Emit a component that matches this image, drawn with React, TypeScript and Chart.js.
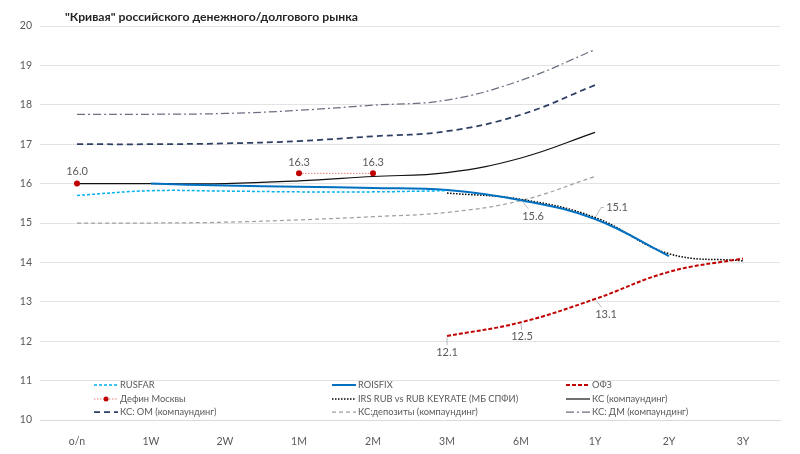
import React, { useEffect, useRef } from "react";
import { Chart, registerables } from "chart.js";

Chart.register(...registerables);

const TITLE = '"Кривая" российского денежного/долгового рынка';
const categories = ["o/n", "1W", "2W", "1M", "2M", "3M", "6M", "1Y", "2Y", "3Y"];

const rusfar = [15.7, 15.82, 15.81, 15.79, 15.79, 15.82, null, null, null, null];
const roisfix = [null, 16.0, 15.95, 15.92, 15.89, 15.84, 15.58, 15.1, 14.16, null];
const ofz = [null, null, null, null, null, 12.13, 12.48, 13.07, 13.76, 14.1];
const defin = [16.0, null, null, 16.26, 16.26, null, null, null, null, null];
const irs = [null, null, null, null, null, 15.76, 15.6, 15.14, 14.22, 14.04];
const ks = [16.0, 16.0, 16.0, 16.07, 16.18, 16.28, 16.65, 17.3, null, null];
const ksOm = [17.0, 17.0, 17.02, 17.08, 17.2, 17.33, 17.75, 18.5, null, null];
const ksDep = [15.0, 15.0, 15.02, 15.08, 15.16, 15.27, 15.57, 16.18, null, null];
const ksDm = [17.76, 17.76, 17.78, 17.86, 17.99, 18.12, 18.62, 19.4, null, null];

const yTicks = [10, 11, 12, 13, 14, 15, 16, 17, 18, 19, 20];

// Data labels: [datasetIndex, categoryIndex]
const labelPoints: Array<[number, number]> = [
  [3, 0], [3, 3], [3, 4],
  [4, 6], [4, 7],
  [2, 5], [2, 6], [2, 7],
];
// label layout (offsets from point, optional leader)
const labelLayout = [
  { dx: 0, dy: -12, leader: false },
  { dx: 0, dy: -11, leader: false },
  { dx: 0, dy: -11, leader: false },
  { dx: 12, dy: 17, leader: true },
  { dx: 22, dy: -10, leader: true, elbow: true },
  { dx: 0, dy: 16, leader: true },
  { dx: 1, dy: 14, leader: true },
  { dx: 11, dy: 15, leader: true },
];

const FONT = "Lato, 'Open Sans', sans-serif";
const GREY = "#595959";

const legendCols = [94, 332, 566];
const legendRows = [385, 399, 412];

const customPlugin = {
  id: "custom",
  afterDatasetsDraw(chart: any) {
    const ctx = chart.ctx;
    ctx.save();
    ctx.font = `11px ${FONT}`;
    ctx.fillStyle = GREY;
    ctx.textAlign = "center";
    ctx.textBaseline = "middle";
    labelPoints.forEach(([di, i], k) => {
      const el = chart.getDatasetMeta(di).data[i];
      const v = chart.data.datasets[di].data[i];
      const lay = labelLayout[k];
      const tx = el.x + lay.dx;
      const ty = el.y + lay.dy;
      if (lay.leader) {
        ctx.strokeStyle = "#A6A6A6";
        ctx.lineWidth = 0.8;
        ctx.setLineDash([]);
        ctx.beginPath();
        if (lay.elbow) {
          ctx.moveTo(el.x + 1, el.y - 1);
          ctx.lineTo(tx - 16, ty);
          ctx.lineTo(tx - 13, ty);
        } else {
          const sx = el.x + (tx - el.x) * 0.1;
          const sy = el.y + (ty - el.y) * 0.1;
          const ex = el.x + (tx - el.x) * 0.6;
          const ey = el.y + (ty - el.y) * 0.55;
          ctx.moveTo(sx, sy);
          ctx.lineTo(ex, ey);
        }
        ctx.stroke();
      }
      ctx.fillText(Number(v).toFixed(1), tx, ty);
    });
    ctx.restore();
  },
  afterDraw(chart: any) {
    const ctx = chart.ctx;
    ctx.save();
    // title
    ctx.font = `bold 12.2px ${FONT}`;
    ctx.fillStyle = "#262626";
    ctx.textAlign = "left";
    ctx.textBaseline = "middle";
    ctx.fillText(TITLE, 65, 17);
    // legend
    ctx.font = `9.3px ${FONT}`;
    chart.data.datasets.forEach((ds: any, k: number) => {
      const x = legendCols[k % 3];
      const y = legendRows[Math.floor(k / 3)];
      ctx.strokeStyle = ds.borderColor;
      ctx.lineWidth = ds.borderWidth;
      ctx.setLineDash(ds.borderDash || []);
      ctx.beginPath();
      ctx.moveTo(x, y);
      ctx.lineTo(x + 24, y);
      ctx.stroke();
      if (ds.pointRadius > 0) {
        ctx.setLineDash([]);
        ctx.fillStyle = ds.pointBackgroundColor;
        ctx.beginPath();
        ctx.arc(x + 12, y, 2.5, 0, Math.PI * 2);
        ctx.fill();
      }
      ctx.fillStyle = GREY;
      ctx.fillText(ds.label, x + 26, y);
    });
    ctx.restore();
  },
};

export default function App() {
  const ref = useRef<HTMLCanvasElement | null>(null);
  useEffect(() => {
    if (!ref.current) return;
    const base = { pointRadius: 0, tension: 0.4, fill: false, spanGaps: false };
    const chart = new Chart(ref.current, {
      type: "line",
      data: {
        labels: categories,
        datasets: [
          { ...base, label: "RUSFAR", data: rusfar, borderColor: "#00B0F0", borderWidth: 1.5, borderDash: [3, 2] },
          { ...base, label: "ROISFIX", data: roisfix, borderColor: "#0070C0", borderWidth: 2 },
          { ...base, label: "ОФЗ", data: ofz, borderColor: "#C00000", borderWidth: 2, borderDash: [4, 2] },
          {
            ...base, label: "Дефин Москвы", data: defin, borderColor: "#E47A7A", borderWidth: 1,
            borderDash: [1.5, 1.5], tension: 0, pointRadius: 3, pointBackgroundColor: "#C00000",
            pointBorderColor: "#C00000", pointBorderWidth: 0,
          },
          { ...base, label: "IRS RUB vs RUB KEYRATE (МБ СПФИ)", data: irs, borderColor: "#000000", borderWidth: 1.5, borderDash: [1.5, 1.5] },
          { ...base, label: "КС (компаундинг)", data: ks, borderColor: "#111111", borderWidth: 1.2 },
          { ...base, label: "КС: ОМ (компаундинг)", data: ksOm, borderColor: "#2E3F63", borderWidth: 1.75, borderDash: [6, 4] },
          { ...base, label: "КС:депозиты (компаундинг)", data: ksDep, borderColor: "#A0A0A0", borderWidth: 1.25, borderDash: [4, 3] },
          { ...base, label: "КС: ДМ (компаундинг)", data: ksDm, borderColor: "#6A7080", borderWidth: 1.25, borderDash: [8, 3, 2, 3] },
        ],
      },
      options: {
        animation: false,
        responsive: true,
        maintainAspectRatio: false,
        layout: { padding: { top: 26, right: 20, left: 0, bottom: 0 } },
        plugins: { legend: { display: false }, title: { display: false }, tooltip: { enabled: false } },
        scales: {
          x: {
            offset: true,
            grid: { display: false },
            border: { display: true, color: "#D9D9D9", width: 1 },
            ticks: { color: GREY, font: { family: FONT, size: 10.5 }, padding: 7, maxRotation: 0, autoSkip: false },
            afterFit: (s: any) => { s.height = 34; },
          },
          y: {
            min: 10,
            max: 20,
            afterBuildTicks: (s: any) => { s.ticks = yTicks.map((v) => ({ value: v })); },
            grid: { color: "#D9D9D9", lineWidth: 0.75, drawTicks: false },
            border: { display: false },
            ticks: { color: GREY, font: { family: FONT, size: 10.5 }, padding: 8 },
            afterFit: (s: any) => { s.width = 40; },
          },
        },
      },
      plugins: [customPlugin],
    });
    return () => chart.destroy();
  }, []);
  return (
    <div style={{ position: "fixed", left: 0, top: 0, width: 800, height: 454, background: "#fff" }}>
      <canvas ref={ref} />
    </div>
  );
}
